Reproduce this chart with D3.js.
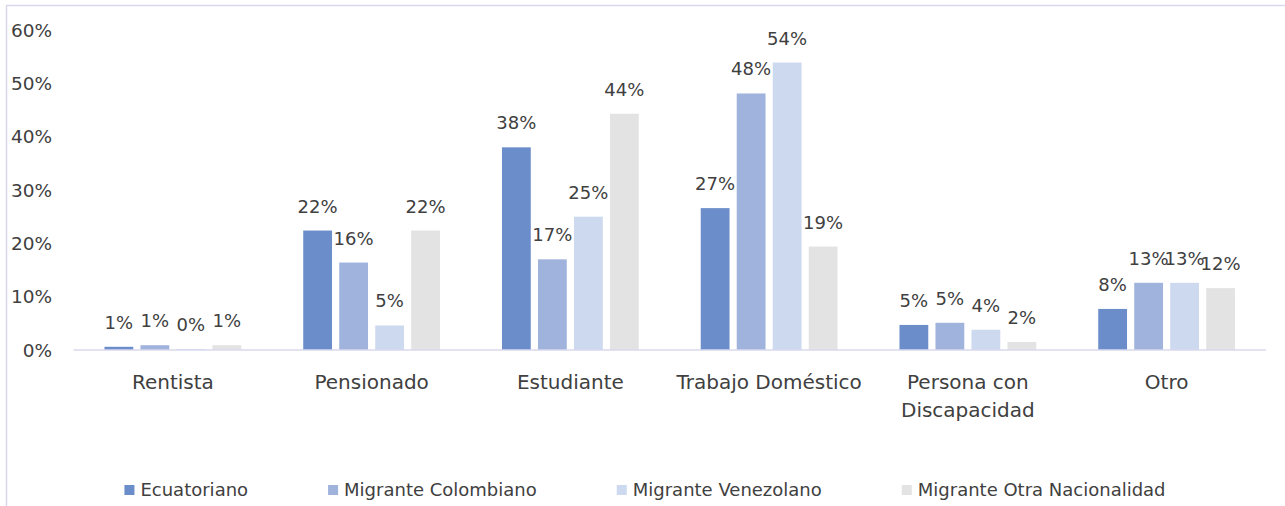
<!DOCTYPE html>
<html>
<head>
<meta charset="utf-8">
<script src="https://cdn.jsdelivr.net/npm/d3@7"></script>
<style>
  html, body { margin: 0; padding: 0; background: #fff; }
  svg { display: block; }
  text { font-family: "DejaVu Sans", sans-serif; fill: #404040; }
</style>
</head>
<body>
<svg id="chart" width="1285" height="506"></svg>
<script>
const categories = [["Rentista"], ["Pensionado"], ["Estudiante"], ["Trabajo Doméstico"], ["Persona con", "Discapacidad"], ["Otro"]];
const seriesNames = ["Ecuatoriano", "Migrante Colombiano", "Migrante Venezolano", "Migrante Otra Nacionalidad"];
const ecuatoriano = [0.006, 0.224, 0.380, 0.266, 0.047, 0.077];
const colombiano  = [0.009, 0.164, 0.170, 0.481, 0.051, 0.126];
const venezolano  = [0.002, 0.046, 0.250, 0.539, 0.038, 0.126];
const otraNac     = [0.009, 0.224, 0.443, 0.194, 0.015, 0.116];
const yTicks = [0, 0.1, 0.2, 0.3, 0.4, 0.5, 0.6];
const colors = ["#6b8dca", "#9fb3dd", "#cdd9ee", "#e3e3e3"];

const seriesValues = [ecuatoriano, colombiano, venezolano, otraNac];
const catKeys = categories.map(c => c.join(" "));

const svg = d3.select("#chart");

// outer border (top + left visible)
svg.append("path")
  .attr("d", "M6.5,506 L6.5,5.5 L1285,5.5")
  .attr("fill", "none").attr("stroke", "#d9d9ec").attr("stroke-width", 1.5);

const x0 = d3.scaleBand().domain(catKeys).range([73.5, 1266]).padding(0);
const x1 = d3.scaleBand().domain(seriesNames).range([-72, 72]).paddingInner(0.2).paddingOuter(0.1);
const y = d3.scaleLinear().domain([0, 0.6]).range([350, 30]);

// y tick labels
svg.append("g").selectAll("text").data(yTicks).join("text")
  .attr("x", 52).attr("y", d => y(d)).attr("dy", "0.36em")
  .attr("text-anchor", "end").style("font-size", "18.5px")
  .text(d => d3.format(".0%")(d));

// bars
const groups = svg.append("g").selectAll("g").data(seriesNames).join("g")
  .attr("fill", (d, i) => colors[i]);
groups.each(function(sName, si) {
  const g = d3.select(this);
  const vals = seriesValues[si];
  g.selectAll("rect").data(vals).join("rect")
    .attr("x", (v, ci) => x0(catKeys[ci]) + x0.bandwidth() / 2 + x1(sName))
    .attr("width", x1.bandwidth())
    .attr("y", v => y(v))
    .attr("height", v => y(0) - y(v));
});

// baseline axis
svg.append("line")
  .attr("x1", x0.range()[0]).attr("x2", x0.range()[1])
  .attr("y1", y(0)).attr("y2", y(0))
  .attr("stroke", "#d9d9ec").attr("stroke-width", 1.5);

// data labels
seriesNames.forEach((sName, si) => {
  svg.append("g").selectAll("text").data(seriesValues[si]).join("text")
    .attr("x", (v, ci) => x0(catKeys[ci]) + x0.bandwidth() / 2 + x1(sName) + x1.bandwidth() / 2)
    .attr("y", v => y(v) - 18)
    .attr("text-anchor", "middle").style("font-size", "18px")
    .text(v => d3.format(".0%")(v));
});

// category labels
const catG = svg.append("g").selectAll("text").data(categories).join("text")
  .attr("x", (c, i) => x0(catKeys[i]) + x0.bandwidth() / 2)
  .attr("y", 389)
  .attr("text-anchor", "middle").style("font-size", "20px");
catG.each(function(lines) {
  const t = d3.select(this);
  lines.forEach((ln, li) => {
    t.append("tspan").attr("x", t.attr("x")).attr("dy", li === 0 ? 0 : 28).text(ln);
  });
});

// legend
const legend = svg.append("g");
const items = legend.selectAll("g").data(seriesNames).join("g");
items.append("rect").attr("width", 10).attr("height", 10).attr("y", -5).attr("fill", (d, i) => colors[i]);
items.append("text").attr("x", 16).attr("dy", "0.36em").style("font-size", "18px").text(d => d);
const widths = [];
items.each(function() { widths.push(this.getBBox().width); });
const gap = 80;
const total = d3.sum(widths) + gap * (widths.length - 1);
let cx = 645 - total / 2;
items.attr("transform", (d, i) => {
  const tr = `translate(${cx},490)`;
  cx += widths[i] + gap;
  return tr;
});
</script>
</body>
</html>
